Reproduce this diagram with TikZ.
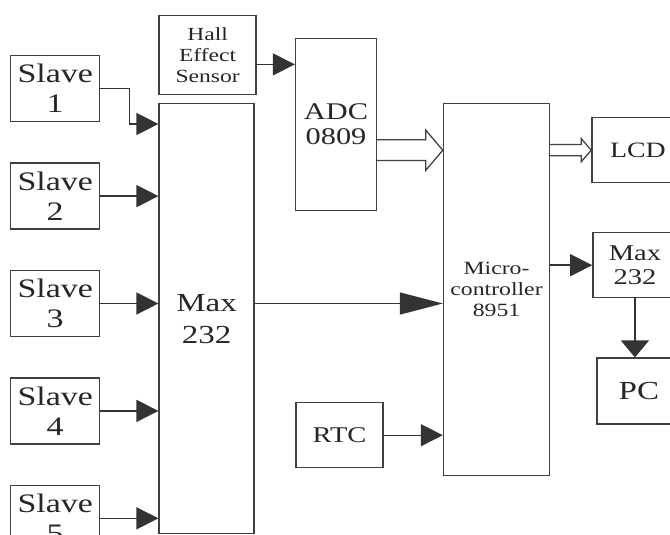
\documentclass[tikz,border=0pt]{standalone}
\usepackage{fontspec}
\setmainfont{Liberation Serif}[FakeStretch=1.27]
\usetikzlibrary{arrows.meta, positioning, calc}
\tikzset{
    block/.style={
        rectangle, draw=black!75, line width=1pt, fill=white,
        inner sep=0pt, align=center, text=black!85
    },
    slave/.style={
        block, minimum width=2.225cm, minimum height=1.65cm,
        font=\fontsize{19pt}{21.3pt}\selectfont
    },
    small/.style={
        block, font=\fontsize{13.2pt}{15pt}\selectfont
    },
    arrow/.style={-{Triangle[length=5.5mm, width=5.5mm]}, line width=1pt, draw=black!80},
    bigarrow/.style={-{Triangle[length=10.75mm, width=5.5mm]}, line width=1pt, draw=black!80},
    downarrow/.style={-{Triangle[length=4.25mm, width=7mm]}, line width=1pt, draw=black!80},
    busarrow/.style={draw=black!75, line width=0.9pt, fill=white, line join=miter}
}
\begin{document}
\begin{tikzpicture}
    \useasboundingbox (0,0) rectangle (16.75,-13.375);
    \clip (0,0) rectangle (16.75,-13.375);

    \node[slave, anchor=north west] (s1) at (0.25,-1.375) {Slave\\1};
    \node[slave, below=1cm of s1] (s2) {Slave\\2};
    \node[slave, below=1cm of s2] (s3) {Slave\\3};
    \node[slave, below=1cm of s3] (s4) {Slave\\4};
    \node[slave, below=1cm of s4] (s5) {Slave\\5};

    \node[block, minimum width=2.375cm, minimum height=10.75cm,
          font=\fontsize{18.5pt}{22.7pt}\selectfont,
          below right=1.2cm and 1.45cm of s1.north east] (max) {Max\\232};
    \node[small, minimum width=2.425cm, minimum height=1.975cm,
          above right=0.2cm and 0cm of max.north west] (hall) {Hall\\Effect\\Sensor};
    \node[block, minimum width=2.025cm, minimum height=4.3cm,
          font=\fontsize{17pt}{17.8pt}\selectfont,
          below right=0.575cm and 0.95cm of hall.north east] (adc) {ADC\\0809};
    \node[small, minimum width=2.65cm, minimum height=9.3cm,
          font=\fontsize{13.3pt}{15pt}\selectfont,
          below right=0cm and 4.7cm of max.north east] (mcu) {Micro-\\controller\\8951};
    \node[block, minimum width=2.3cm, minimum height=1.625cm,
          font=\fontsize{15.6pt}{17pt}\selectfont,
          below right=0.35cm and 1.025cm of mcu.north east] (lcd) {LCD};
    \node[block, minimum width=2.1cm, minimum height=1.625cm,
          font=\fontsize{16pt}{16.5pt}\selectfont,
          below right=3.225cm and 1.05cm of mcu.north east] (maxs) {Max\\232};
    \node[block, minimum width=2.1cm, minimum height=1.65cm,
          font=\fontsize{18.5pt}{20pt}\selectfont,
          below right=1.475cm and 0.1cm of maxs.south west] (pc) {PC};
    \node[block, minimum width=2.175cm, minimum height=1.625cm,
          font=\fontsize{16pt}{17pt}\selectfont,
          below left=7.475cm and 1.475cm of mcu.north west] (rtc) {RTC};

    % slaves into max232
    \coordinate (m1) at ([yshift=-5.25mm]max.north west);
    \draw[arrow] (s1.east) -- ++(7.25mm,0) |- (m1);
    \draw[arrow] (s2.east) -- (s2.east -| max.west);
    \draw[arrow] (s3.east) -- (s3.east -| max.west);
    \draw[arrow] (s4.east) -- (s4.east -| max.west);
    \draw[arrow] (s5.east) -- (s5.east -| max.west);

    \coordinate (h1) at ([yshift=-2.4mm]hall.east);
    \draw[arrow] (h1) -- (h1 -| adc.west);
    \draw[bigarrow] (max.east |- s3.east) -- (mcu.west |- s3.east);
    \draw[arrow] (rtc.east) -- (rtc.east -| mcu.west);
    \draw[arrow] (mcu.east |- maxs.west) -- (maxs.west);
    \draw[downarrow] (maxs.south) -- (maxs.south |- pc.north);

    % hollow bus arrows
    \draw[busarrow] ($(adc.east |- lcd.west)+(0,2.6mm)$) -- ($(mcu.west |- lcd.west)+(-4.25mm,2.6mm)$)
        -- ++(0,2.4mm) -- (mcu.west |- lcd.west) -- ++(-4.25mm,-5mm) -- ++(0,2.4mm)
        -- ($(adc.east |- lcd.west)+(0,-2.6mm)$);
    \draw[busarrow] ($(mcu.east |- lcd.west)+(0,1.4mm)$) -- ($(lcd.west)+(-2.5mm,1.4mm)$)
        -- ++(0,1.5mm) -- (lcd.west) -- ++(-2.5mm,-2.9mm) -- ++(0,1.5mm)
        -- ($(mcu.east |- lcd.west)+(0,-1.4mm)$);
\end{tikzpicture}
\end{document}
